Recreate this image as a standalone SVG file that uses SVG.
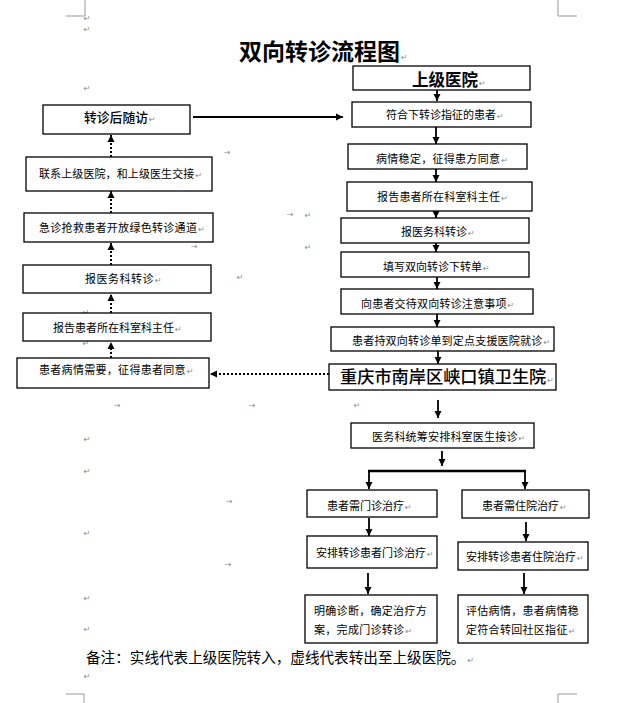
<svg xmlns="http://www.w3.org/2000/svg" width="625" height="703" viewBox="0 0 625 703">
<defs>
<style>
.box{fill:#fff;stroke:#000;stroke-width:1.3}
.t{font-family:"Noto Sans CJK SC","Noto Sans",sans-serif;font-size:11px;fill:#000}
.pm{font-family:"DejaVu Sans",sans-serif;font-size:8px;fill:#888;font-weight:normal}
.solid{stroke:#000;stroke-width:1.8;fill:none}
.dot{stroke:#000;stroke-width:2;stroke-dasharray:2 2;fill:none}
.crop{stroke:#999;stroke-width:1;fill:none}
</style>
<marker id="ah" markerUnits="userSpaceOnUse" markerWidth="8" markerHeight="8" refX="7" refY="4" orient="auto">
<path d="M0,0.5 L7,4 L0,7.5 z" fill="#000"/>
</marker>
</defs>
<rect width="625" height="703" fill="#fff"/>

<g id="page-marks">
<path class="crop" d="M66,16 H85 V0 M558,0 V16 H577 M66,694 H84 V703 M558,703 V694 H577"/>
<g class="pm" text-anchor="middle">
<text x="87" y="21">↵</text><text x="87" y="32">↵</text><text x="87" y="91">↵</text>
<text x="308" y="218">↵</text><text x="308" y="250">↵</text><text x="240" y="280">↵</text>
<text x="86" y="315">↵</text><text x="86" y="346">↵</text><text x="357" y="408">↵</text>
<text x="87" y="442">↵</text><text x="87" y="474">↵</text><text x="87" y="536">↵</text>
<text x="87" y="601">↵</text><text x="87" y="632">↵</text><text x="87" y="679">↵</text>
<text x="227" y="155">→</text><text x="290" y="217">→</text><text x="194" y="249">→</text>
<text x="117" y="408">→</text><text x="252" y="408">→</text><text x="229" y="504">→</text>
<text x="228" y="567">→</text>
</g>
</g>

<g id="title">
<text x="239" y="60" style="font-family:'Noto Sans CJK SC',sans-serif;font-size:23px;font-weight:bold;fill:#000">双向转诊流程图<tspan class="pm" dx="1">↵</tspan></text>
</g>

<g id="connectors">
<line class="solid" x1="437" y1="90" x2="437" y2="101" marker-end="url(#ah)"/>
<line class="solid" x1="436" y1="127" x2="436" y2="144" marker-end="url(#ah)"/>
<line class="solid" x1="436" y1="169" x2="436" y2="182" marker-end="url(#ah)"/>
<line class="solid" x1="436" y1="211" x2="436" y2="218" marker-end="url(#ah)"/>
<line class="solid" x1="436" y1="243" x2="436" y2="252" marker-end="url(#ah)"/>
<line class="solid" x1="437" y1="277" x2="437" y2="289" marker-end="url(#ah)"/>
<line class="solid" x1="437" y1="314" x2="437" y2="327" marker-end="url(#ah)"/>
<line class="solid" x1="438" y1="351" x2="438" y2="364" marker-end="url(#ah)"/>
<line class="solid" x1="438" y1="400" x2="438" y2="418" marker-end="url(#ah)"/>
<line class="solid" x1="442" y1="451" x2="442" y2="466" marker-end="url(#ah)"/>
<line x1="368" y1="471" x2="526" y2="471" stroke="#000" stroke-width="2.6"/>
<line class="solid" x1="369" y1="471" x2="369" y2="489" marker-end="url(#ah)"/>
<line class="solid" x1="525" y1="471" x2="525" y2="489" marker-end="url(#ah)"/>
<line class="solid" x1="369" y1="518" x2="369" y2="536" marker-end="url(#ah)"/>
<line class="solid" x1="526" y1="522" x2="526" y2="541" marker-end="url(#ah)"/>
<line class="solid" x1="368" y1="573" x2="368" y2="594" marker-end="url(#ah)"/>
<line class="solid" x1="524" y1="573" x2="524" y2="594" marker-end="url(#ah)"/>
<line class="solid" x1="193" y1="117" x2="343" y2="117" marker-end="url(#ah)"/>
<line class="dot" x1="111" y1="358" x2="111" y2="342" marker-end="url(#ah)"/>
<line class="dot" x1="111" y1="313" x2="111" y2="294" marker-end="url(#ah)"/>
<line class="dot" x1="111" y1="265" x2="111" y2="243" marker-end="url(#ah)"/>
<line class="dot" x1="111" y1="213" x2="111" y2="191" marker-end="url(#ah)"/>
<line class="dot" x1="111" y1="157" x2="111" y2="135" marker-end="url(#ah)"/>
<line class="dot" x1="329" y1="374" x2="210" y2="374" marker-end="url(#ah)"/>
</g>

<g id="n-shangji"><rect class="box" x="353" y="66" width="177" height="24"/>
<text class="t" x="412" y="86" style="font-size:16.5px;font-weight:bold">上级医院<tspan class="pm" dx="1">↵</tspan></text></g>
<g id="n-fuhe"><rect class="box" x="352" y="102" width="179" height="25"/>
<text class="t" x="386" y="119">符合下转诊指征的患者<tspan class="pm" dx="1">↵</tspan></text></g>
<g id="n-bingqing"><rect class="box" x="348" y="144" width="179" height="25"/>
<text class="t" x="376" y="163" letter-spacing="0.3">病情稳定，征得患方同意<tspan class="pm" dx="1">↵</tspan></text></g>
<g id="n-baogao-r"><rect class="box" x="347" y="182" width="185" height="29"/>
<text class="t" x="377" y="201" letter-spacing="0.2">报告患者所在科室科主任<tspan class="pm" dx="1">↵</tspan></text></g>
<g id="n-yiwu-r"><rect class="box" x="341" y="218" width="188" height="25"/>
<text class="t" x="401" y="236">报医务科转诊<tspan class="pm" dx="1">↵</tspan></text></g>
<g id="n-tianxie"><rect class="box" x="341" y="252" width="188" height="25"/>
<text class="t" x="383" y="271">填写双向转诊下转单<tspan class="pm" dx="1">↵</tspan></text></g>
<g id="n-jiaodai"><rect class="box" x="341" y="289" width="192" height="25"/>
<text class="t" x="361" y="308" letter-spacing="0.2">向患者交待双向转诊注意事项<tspan class="pm" dx="1">↵</tspan></text></g>
<g id="n-chi"><rect class="box" x="331" y="327" width="223" height="24"/>
<text class="t" x="352" y="345" letter-spacing="0.2">患者持双向转诊单到定点支援医院就诊<tspan class="pm" dx="1">↵</tspan></text></g>
<g id="n-xiakou"><rect class="box" x="329" y="364" width="227" height="26"/>
<text class="t" x="340" y="383" style="font-size:17.2px;font-weight:500">重庆市南岸区峡口镇卫生院<tspan class="pm" dx="1">↵</tspan></text></g>
<g id="n-tongchou"><rect class="box" x="351" y="423" width="183" height="25"/>
<text class="t" x="372" y="441" letter-spacing="0.2">医务科统筹安排科室医生接诊<tspan class="pm" dx="1">↵</tspan></text></g>
<g id="n-menzhen"><rect class="box" x="307" y="490" width="130" height="27"/>
<text class="t" x="327" y="510">患者需门诊治疗<tspan class="pm" dx="1">↵</tspan></text></g>
<g id="n-zhuyuan"><rect class="box" x="462" y="490" width="127" height="28"/>
<text class="t" x="482" y="510">患者需住院治疗<tspan class="pm" dx="1">↵</tspan></text></g>
<g id="n-anpai-m"><rect class="box" x="307" y="536" width="130" height="32"/>
<text class="t" x="316" y="557">安排转诊患者门诊治疗<tspan class="pm" dx="1">↵</tspan></text></g>
<g id="n-anpai-z"><rect class="box" x="458" y="542" width="130" height="28"/>
<text class="t" x="466" y="561">安排转诊患者住院治疗<tspan class="pm" dx="1">↵</tspan></text></g>
<g id="n-mingque"><rect class="box" x="305" y="595" width="132" height="48"/>
<text class="t" x="314" y="615" letter-spacing="0.3">明确诊断，确定治疗方</text>
<text class="t" x="314" y="634" letter-spacing="0.3">案，完成门诊转诊<tspan class="pm" dx="1">↵</tspan></text></g>
<g id="n-pinggu"><rect class="box" x="458" y="595" width="130" height="48"/>
<text class="t" x="466" y="615" letter-spacing="0.3">评估病情，患者病情稳</text>
<text class="t" x="466" y="634" letter-spacing="0.3">定符合转回社区指征<tspan class="pm" dx="1">↵</tspan></text></g>

<g id="n-suifang"><rect class="box" x="43" y="105" width="147" height="29"/>
<text class="t" x="84" y="122" style="font-size:12.8px;font-weight:500">转诊后随访<tspan class="pm" dx="1">↵</tspan></text></g>
<g id="n-lianxi"><rect class="box" x="26" y="157" width="186" height="34"/>
<text class="t" x="39" y="178" letter-spacing="0.1">联系上级医院，和上级医生交接<tspan class="pm" dx="1">↵</tspan></text></g>
<g id="n-jizhen"><rect class="box" x="24" y="213" width="189" height="29"/>
<text class="t" x="39" y="232" letter-spacing="0.3">急诊抢救患者开放绿色转诊通道<tspan class="pm" dx="1">↵</tspan></text></g>
<g id="n-yiwu-l"><rect class="box" x="23" y="265" width="188" height="28"/>
<text class="t" x="85" y="283" letter-spacing="0.5">报医务科转诊<tspan class="pm" dx="1">↵</tspan></text></g>
<g id="n-baogao-l"><rect class="box" x="23" y="313" width="188" height="28"/>
<text class="t" x="53" y="332">报告患者所在科室科主任<tspan class="pm" dx="1">↵</tspan></text></g>
<g id="n-xuyao"><rect class="box" x="17" y="358" width="192" height="30"/>
<text class="t" x="39" y="374" letter-spacing="0.3">患者病情需要，征得患者同意<tspan class="pm" dx="1">↵</tspan></text></g>

<g id="note">
<text class="t" x="86" y="663" style="font-size:14.6px">备注：实线代表上级医院转入，虚线代表转出至上级医院。<tspan class="pm" dx="2">↵</tspan></text>
</g>
</svg>
